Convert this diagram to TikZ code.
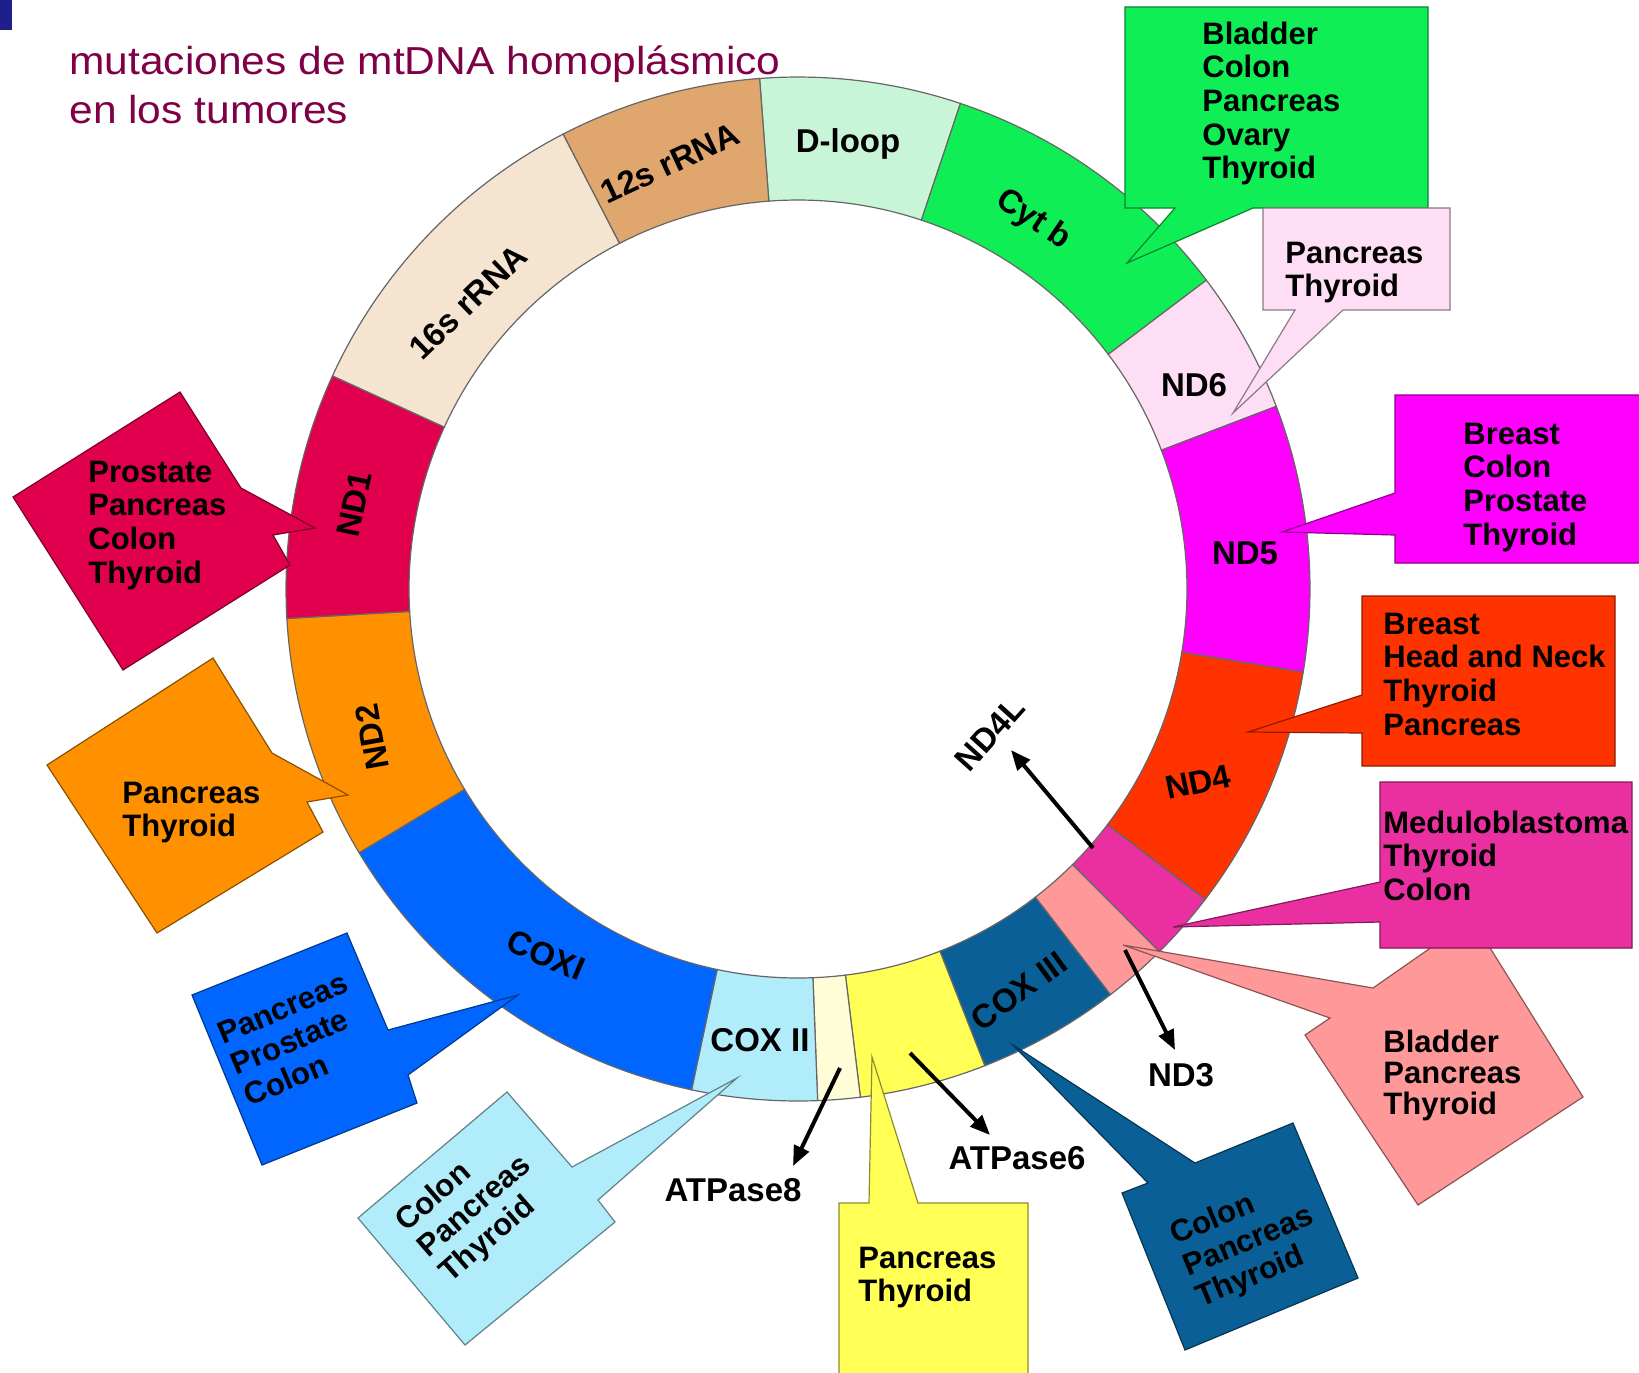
\documentclass[tikz,border=0pt]{standalone}
\usepackage{fontspec}
\usepackage{graphicx}
\setmainfont{Liberation Sans}
\newfontfamily\titlefont[FakeStretch=1.09]{Liberation Sans}
\usetikzlibrary{arrows.meta,calc}
\definecolor{cDloop}{RGB}{200,245,215}
\definecolor{cCytb}{RGB}{16,238,85}
\definecolor{cND6}{RGB}{253,222,245}
\definecolor{cND5}{RGB}{255,0,255}
\definecolor{cND4}{RGB}{255,51,0}
\definecolor{cND4L}{RGB}{234,48,160}
\definecolor{cND3}{RGB}{255,153,153}
\definecolor{cCOX3}{RGB}{10,96,150}
\definecolor{cATP6}{RGB}{255,255,85}
\definecolor{cATP8}{RGB}{255,253,215}
\definecolor{cCOX2}{RGB}{176,236,250}
\definecolor{cCOX1}{RGB}{0,102,255}
\definecolor{cND2}{RGB}{255,145,0}
\definecolor{cND1}{RGB}{224,0,77}
\definecolor{c16s}{RGB}{245,228,208}
\definecolor{c12s}{RGB}{223,166,110}
\definecolor{cTitle}{RGB}{128,0,70}
\definecolor{cCorner}{RGB}{30,30,140}
\begin{document}
\begin{tikzpicture}[x=0.5pt,y=-0.5pt,
  seg/.style={draw=black!60, line width=0.6pt},
  callout/.style={fill=#1, draw=#1!55!black, line width=0.6pt},
  ctext/.style={font=\bfseries\fontsize{15.5}{16.85}\selectfont, align=left, anchor=base west, inner sep=0pt},
  slabel/.style={font=\bfseries\fontsize{16.5}{18}\selectfont, inner sep=0pt},
  arr/.style={line width=2pt, -{Triangle[length=10pt,width=8pt]}}
]
\useasboundingbox (0,0) rectangle (1639,1372);
\begin{scope}
\clip (0,0) rectangle (1639,1372);
\fill[white] (0,0) rectangle (1639,1372);
\coordinate (C) at (798,589);
% ring
\foreach \a/\b/\c in {-94.3/-71.5/cDloop, -71.5/-37.1/cCytb, -37.1/-20.9/cND6, -20.9/9.35/cND5, 9.35/37.3/cND4, 37.3/45.1/cND4L, 45.1/52.4/cND3, 52.4/68.6/cCOX3, 68.6/83/cATP6, 83/87.8/cATP8, 87.8/102/cCOX2, 102/149/cCOX1, 149/176.7/cND2, 176.7/204.6/cND1, 204.6/242.7/c16s, 242.7/265.7/c12s}
  {\filldraw[seg, fill=\c] ($(C)+(\a:512)$) arc[start angle=\a, end angle=\b, radius=512] -- ($(C)+(\b:389)$) arc[start angle=\b, end angle=\a, radius=389] -- cycle;}
% callouts
\filldraw[callout=cND1] (180,392) -- (241,488) -- (315,528) -- (273,535) -- (290,565) -- (123,670) -- (13,497) -- cycle;
\filldraw[callout=cND2] (213,658) -- (272,753) -- (348,795) -- (307,802) -- (323,832) -- (157,933) -- (47,765) -- cycle;
\filldraw[callout=cCOX1] (347,933) -- (388,1030) -- (518,995) -- (408,1075) -- (417,1103) -- (262,1165) -- (192,995) -- cycle;
\filldraw[callout=cCOX2] (507,1092) -- (572,1167) -- (737,1078) -- (598,1200) -- (615,1222) -- (465,1345) -- (358,1218) -- cycle;
\filldraw[callout=cATP6] (839,1203) -- (869,1203) -- (872,1057) -- (918,1203) -- (1028,1203) -- (1028,1400) -- (839,1400) -- cycle;
\filldraw[callout=cCOX3] (1013,1045) -- (1195,1163) -- (1293,1123) -- (1358,1278) -- (1185,1350) -- (1122,1193) -- (1148,1183) -- cycle;
\filldraw[callout=cND3] (1123,945) -- (1373,988) -- (1472,919) -- (1583,1097) -- (1418,1205) -- (1305,1035) -- (1330,1018) -- cycle;
\filldraw[callout=cND4L] (1380,782) -- (1632,782) -- (1632,948) -- (1380,948) -- (1380,922) -- (1173,927) -- (1380,882) -- cycle;
\filldraw[callout=cND4] (1362,596) -- (1615,596) -- (1615,766) -- (1362,766) -- (1362,733) -- (1248,732) -- (1362,695) -- cycle;
\filldraw[callout=cND5] (1395,395) -- (1650,395) -- (1650,563) -- (1395,563) -- (1395,535) -- (1282,532) -- (1395,493) -- cycle;
\filldraw[callout=cCytb] (1125,7) -- (1428,7) -- (1428,208) -- (1253,208) -- (1127,263) -- (1175,208) -- (1125,208) -- cycle;
\filldraw[callout=cND6] (1263,208) -- (1450,208) -- (1450,310) -- (1343,310) -- (1233,413) -- (1295,310) -- (1263,310) -- cycle;
% segment labels
\node[slabel, rotate=25] (l12s) at (670,163) {12s rRNA};
\node[slabel, rotate=44] (l16s) at (468,302) {16s rRNA};
\node[slabel, anchor=base] (ldl) at (848,152) {D-loop};
\node[slabel, rotate=-34] (lcytb) at (1033,220) {Cyt b};
\node[slabel] (lnd6) at (1194,385) {ND6};
\node[slabel] (lnd5) at (1245,553) {ND5};
\node[slabel, rotate=12] (lnd4) at (1198,782) {ND4};
\node[slabel, rotate=48] (lnd4l) at (990,734) {ND4L};
\node[slabel] (lnd3) at (1181,1075) {ND3};
\node[slabel, rotate=36] (lcox3) at (1019,991) {COX III};
\node[slabel] (latp6) at (1017,1158) {ATPase6};
\node[slabel] (latp8) at (733,1190) {ATPase8};
\node[slabel] (lcox2) at (760,1040) {COX II};
\node[slabel, rotate=-23] (lcox1) at (546,955) {COXI};
\node[slabel, rotate=100] (lnd2) at (372,737) {ND2};
\node[slabel, rotate=78] (lnd1) at (354,504) {ND1};
% callout texts (anchored at the baseline of the last line)
\node[ctext] (tnd1) at (88,583.1) {Prostate\\Pancreas\\Colon\\Thyroid};
\node[ctext] (tnd2) at (122,836.7) {Pancreas\\Thyroid};
\node[ctext, rotate=23] (tcox1) at (249.3,1107.1) {Pancreas\\Prostate\\Colon};
\node[ctext, rotate=41] (tcox2) at (450.2,1283.9) {Colon\\Pancreas\\Thyroid};
\node[ctext] (tatp6) at (858,1301.7) {Pancreas\\Thyroid};
\node[ctext, rotate=22.5] (tcox3) at (1200.8,1307.3) {Colon\\Pancreas\\Thyroid};
\node[ctext, font=\bfseries\fontsize{15.5}{15.6}\selectfont] (tnd3) at (1383,1114.4) {Bladder\\Pancreas\\Thyroid};
\node[ctext] (tnd4l) at (1383,900.4) {Meduloblastoma\\Thyroid\\Colon};
\node[ctext] (tnd4) at (1383,735.1) {Breast\\Head and Neck\\Thyroid\\Pancreas};
\node[ctext] (tnd5) at (1463,545.1) {Breast\\Colon\\Prostate\\Thyroid};
\node[ctext] (tcytb) at (1202,178.8) {Bladder\\Colon\\Pancreas\\Ovary\\Thyroid};
\node[ctext] (tnd6) at (1285,296.7) {Pancreas\\Thyroid};
% arrows
\coordinate (a8s) at (840,1068); \coordinate (a8e) at (793,1166);
\coordinate (a6s) at (910,1053); \coordinate (a6e) at (990,1135);
\coordinate (n3s) at (1125,950); \coordinate (n3e) at (1175,1050);
\coordinate (n4s) at (1093,848); \coordinate (n4e) at (1011,750);
\draw[arr] (a8s) -- (a8e);
\draw[arr] (a6s) -- (a6e);
\draw[arr] (n3s) -- (n3e);
\draw[arr] (n4s) -- (n4e);
% title
\fill[cCorner] (0,0) rectangle (12,30);
\node[anchor=base west, inner sep=0pt, align=left, text=cTitle, font=\titlefont\fontsize{19.5}{24.5}\selectfont] (title) at (69,123) {mutaciones de mtDNA homoplásmico\\en los tumores};
\end{scope}
\end{tikzpicture}
\end{document}
